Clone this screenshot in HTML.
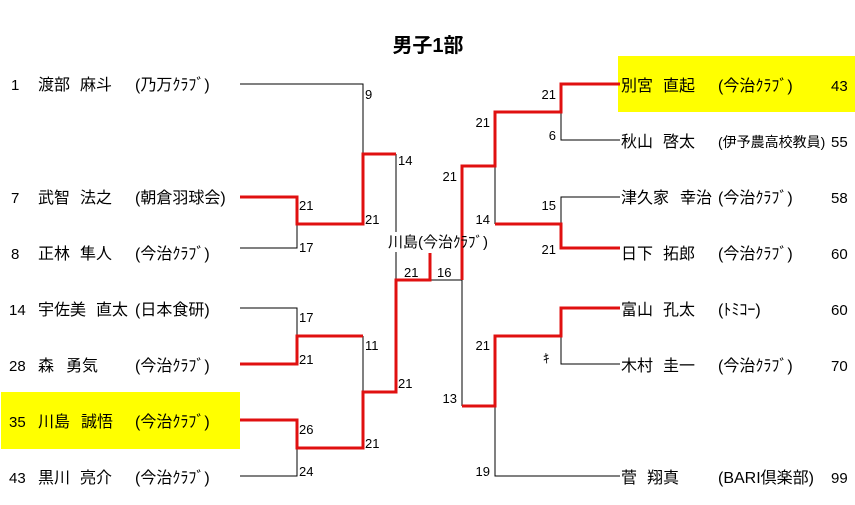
<!DOCTYPE html>
<html><head><meta charset="utf-8"><style>
html,body{margin:0;padding:0;background:#fff;width:855px;height:505px;overflow:hidden}
svg{display:block}
text{font-family:"Liberation Sans","Noto Sans CJK JP",sans-serif;font-size:16px;fill:#000}
.s{font-size:13px}
.n{font-size:15px}
</style></head><body>
<svg width="855" height="505" viewBox="0 0 855 505" xmlns="http://www.w3.org/2000/svg">
<rect x="1" y="392" width="239" height="57" fill="#ffff00"/>
<rect x="618" y="56" width="237" height="56" fill="#ffff00"/>
<text x="428" y="52" text-anchor="middle" style="font-size:20px;font-weight:bold">男子1部</text>

<g fill="none" stroke="#000" stroke-width="1">
<path d="M240 84H363V154"/>
<path d="M297 224V248H240"/>
<path d="M396 154V232M396 252V280"/>
<path d="M240 308H297V336"/>
<path d="M363 336V392"/>
<path d="M297 448V476H240"/>
<path d="M430 280H462V406"/>
<path d="M620 140H561V112"/>
<path d="M620 197H561V224"/>
<path d="M495 166V224"/>
<path d="M620 364H561V336"/>
<path d="M495 406V476H620"/>
</g>
<g fill="none" stroke="#e01010" stroke-width="3">
<path d="M240 197H297V224H363V154H396"/>
<path d="M240 364H297V336H363"/>
<path d="M240 420H297V448H363V392H396V280H430V253"/>
<path d="M462 280V166H495V112H561V84H620"/>
<path d="M495 224H561V248H620"/>
<path d="M462 406H495V336H561V308H620"/>
</g>

<g>
<text class="n" x="11" y="90">1</text><text x="38" y="90">渡部</text><text x="80" y="90">麻斗</text><text x="135" y="90">(乃万ｸﾗﾌﾞ)</text>
<text class="n" x="11" y="203">7</text><text x="38" y="203">武智</text><text x="80" y="203">法之</text><text x="135" y="203">(朝倉羽球会)</text>
<text class="n" x="11" y="259">8</text><text x="38" y="259">正林</text><text x="80" y="259">隼人</text><text x="135" y="259">(今治ｸﾗﾌﾞ)</text>
<text class="n" x="9" y="315">14</text><text x="38" y="315">宇佐美</text><text x="96" y="315">直太</text><text x="135" y="315">(日本食研)</text>
<text class="n" x="9" y="371">28</text><text x="38" y="371">森</text><text x="66" y="371">勇気</text><text x="135" y="371">(今治ｸﾗﾌﾞ)</text>
<text class="n" x="9" y="427">35</text><text x="38" y="427">川島</text><text x="81" y="427">誠悟</text><text x="135" y="427">(今治ｸﾗﾌﾞ)</text>
<text class="n" x="9" y="483">43</text><text x="38" y="483">黒川</text><text x="80" y="483">亮介</text><text x="135" y="483">(今治ｸﾗﾌﾞ)</text>

<text x="621" y="91">別宮</text><text x="663" y="91">直起</text><text x="718" y="91">(今治ｸﾗﾌﾞ)</text><text class="n" x="831" y="91">43</text>
<text x="621" y="147">秋山</text><text x="663" y="147">啓太</text><text x="718" y="147" style="font-size:14px">(伊予農高校教員)</text><text class="n" x="831" y="147">55</text>
<text x="621" y="203">津久家</text><text x="680" y="203">幸治</text><text x="718" y="203">(今治ｸﾗﾌﾞ)</text><text class="n" x="831" y="203">58</text>
<text x="621" y="259">日下</text><text x="663" y="259">拓郎</text><text x="718" y="259">(今治ｸﾗﾌﾞ)</text><text class="n" x="831" y="259">60</text>
<text x="621" y="315">富山</text><text x="663" y="315">孔太</text><text x="718" y="315">(ﾄﾐｺｰ)</text><text class="n" x="831" y="315">60</text>
<text x="621" y="371">木村</text><text x="663" y="371">圭一</text><text x="718" y="371">(今治ｸﾗﾌﾞ)</text><text class="n" x="831" y="371">70</text>
<text x="621" y="483">菅</text><text x="647" y="483">翔真</text><text x="718" y="483">(BARI倶楽部)</text><text class="n" x="831" y="483">99</text>
</g>

<g class="s">
<text class="s" x="365" y="99">9</text>
<text class="s" x="398" y="165">14</text>
<text class="s" x="299" y="210">21</text>
<text class="s" x="365" y="224">21</text>
<text class="s" x="299" y="252">17</text>
<text class="s" x="299" y="322">17</text>
<text class="s" x="299" y="364">21</text>
<text class="s" x="365" y="350">11</text>
<text class="s" x="398" y="388">21</text>
<text class="s" x="299" y="434">26</text>
<text class="s" x="365" y="448">21</text>
<text class="s" x="299" y="476">24</text>
<text class="s" x="404" y="277">21</text>
<text class="s" x="437" y="277">16</text>
<text x="388" y="247" style="font-size:15px">川島(今治ｸﾗﾌﾞ)</text>
<text class="s" x="556" y="99" text-anchor="end">21</text>
<text class="s" x="556" y="140" text-anchor="end">6</text>
<text class="s" x="490" y="127" text-anchor="end">21</text>
<text class="s" x="457" y="181" text-anchor="end">21</text>
<text class="s" x="556" y="210" text-anchor="end">15</text>
<text class="s" x="490" y="224" text-anchor="end">14</text>
<text class="s" x="556" y="254" text-anchor="end">21</text>
<text class="s" x="490" y="350" text-anchor="end">21</text>
<text class="s" x="543" y="363">ｷ</text>
<text class="s" x="457" y="403" text-anchor="end">13</text>
<text class="s" x="490" y="476" text-anchor="end">19</text>
</g>
</svg>
</body></html>
